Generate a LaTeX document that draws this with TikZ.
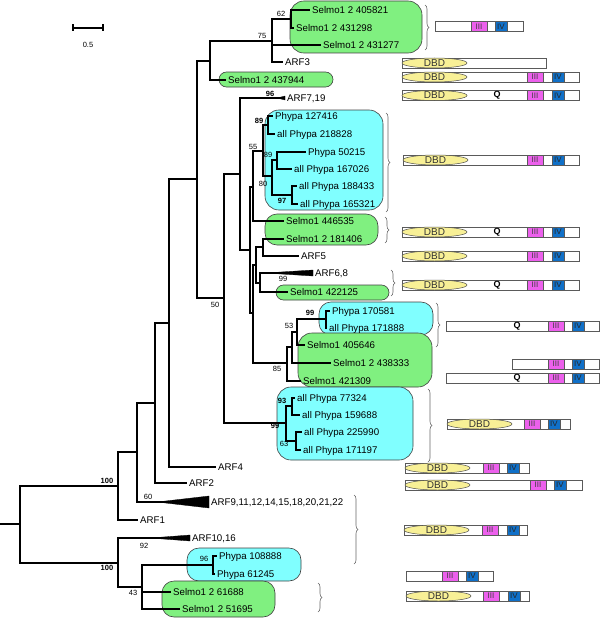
\documentclass[tikz,border=0pt]{standalone}
\usepackage{fontspec}
\setmainfont{Liberation Sans}
\usetikzlibrary{calc}
\usetikzlibrary{shapes.geometric, decorations.pathreplacing, positioning}
\definecolor{selgreen}{RGB}{128,240,128}
\definecolor{phycyan}{RGB}{128,255,255}
\definecolor{dbdyellow}{RGB}{248,240,150}
\definecolor{motifthree}{RGB}{236,96,236}
\definecolor{motiffour}{RGB}{16,112,200}
\definecolor{bargray}{RGB}{90,90,90}

\begin{document}
\begin{tikzpicture}[x=1pt, y=-1pt]%
        \tikzstyle{branch} = [line width=1.1pt, black]
        \tikzstyle{leaf} = [inner sep=1pt, text height=7pt, text depth=0pt, font=\fontsize{9.7}{11}\selectfont]
        \tikzstyle{boot} = [inner sep=0pt, font=\fontsize{7.5}{9}\selectfont]
        \tikzstyle{bootb} = [inner sep=0pt, font=\fontsize{7.5}{9}\selectfont\bfseries]
        \tikzstyle{greenpill} = [fill=selgreen, draw=black!75, line width=0.6pt]
        \tikzstyle{cyanpill} = [fill=phycyan, draw=black!75, line width=0.6pt]
        \tikzstyle{wedge} = [fill=black, draw=black, line width=0.3pt]
        \tikzstyle{brace} = [decorate, decoration={brace, amplitude=4pt}, draw=black!60, line width=0.6pt]
        \tikzstyle{barbox} = [fill=white, draw=bargray, line width=0.8pt]
        \tikzstyle{dbd} = [ellipse, fill=dbdyellow, draw=black!70, line width=0.5pt, minimum width=65pt, minimum height=10pt, inner sep=0pt, text=black!80, font=\fontsize{10}{10}\selectfont]
        \tikzstyle{motif3} = [fill=motifthree, draw=bargray, line width=0.4pt, minimum width=16pt, minimum height=10pt, inner sep=0pt, text=black!75, font=\fontsize{8}{8}\selectfont]
        \tikzstyle{motif4} = [fill=motiffour, draw=bargray, line width=0.4pt, minimum width=12pt, minimum height=10pt, inner sep=0pt, text=black!85, font=\fontsize{8}{8}\selectfont]
        \tikzstyle{qmark} = [inner sep=0pt, font=\fontsize{9}{9}\selectfont\bfseries]

        \useasboundingbox (0,0) rectangle (600,618);

        % clade boxes
        \draw[greenpill, rounded corners=14pt] (290,1) rectangle (422,53);
        \draw[greenpill, rounded corners=7.5pt] (219,72) rectangle (333,87);
        \draw[cyanpill, rounded corners=14pt] (265,110) rectangle (383,210);
        \draw[greenpill, rounded corners=12pt] (265,214) rectangle (378,245);
        \draw[greenpill, rounded corners=7.5pt] (276,285) rectangle (389,300);
        \draw[cyanpill, rounded corners=12pt] (319,302) rectangle (433,335);
        \draw[greenpill, rounded corners=14pt] (298,333) rectangle (432,387);
        \draw[cyanpill, rounded corners=14pt] (277,387) rectangle (413,460);
        \draw[cyanpill, rounded corners=12pt] (187,548) rectangle (301,581);
        \draw[greenpill, rounded corners=12pt] (162,581) rectangle (275,617);

        % scale bar
        \coordinate (sbl) at (73,28);
        \coordinate (sbr) at (103,28);
        \draw[branch] (sbl) -- (sbr);
        \draw[branch] ($(sbl)+(0,-3.5)$) -- ($(sbl)+(0,3.5)$);
        \draw[branch] ($(sbr)+(0,-3.5)$) -- ($(sbr)+(0,3.5)$);
        \node[boot] (sblabel) at (88,45) {0.5};

        \foreach \n/\x/\y in {rt/0/524, n0/20/524, nA/118/486, nA2/118/563, nB/137/452, nC/155/403,
            nD/169/323, nE/197/179, nF/210/61, nH/272/41, nI/291/19, nG/224/298, nJ/240/174,
            nK/250/250, nL/253/187, nN/263/151, nO/268/125, nQ/272/176, nR/277/160, nS/292/195,
            nM/253/313, nY/256/265, nT/263/247, nX/260/283, nW/287/363, nAA/292/347, nZ/297/332,
            nP2/326/319, nCC/286/423, nBB/292/406, nDD/296/441, nEE/142/587, nFF/213/565}{
          \coordinate (\n) at (\x,\y);
        }
        \foreach \n/\x/\y in {s405821/310/10, s431298/294/28, s431277/321/45, arf3/283/62,
            s437944/226/80, arf7/285/98, p127416/273/116, p218828/275/134, p50215/306/152,
            p167026/292/169, p188433/297/186, p165321/298/204, s446535/284/221, s181406/284/239,
            arf5/299/256, arf6/313/273, s422125/288/292, p170581/330/311, p171888/327/328,
            s405646/305/345, s438333/331/363, s421309/301/381, p77324/295/398, p159688/300/415,
            p225990/302/432, p171197/301/450, arf4/216/467, arf2/187/483, arf9/209/502,
            arf1/138/520, arf10/190/538, p108888/217/556, p61245/215/574, s61688/171/592,
            s51695/180/609}{
          \coordinate (\n) at (\x,\y);
        }

        \draw[branch] (rt) -- (n0);
        \foreach \p/\c in {n0/nA, n0/nA2, nA/nB, nA/arf1, nB/nC, nB/arf9, nC/nD, nC/arf2,
            nD/nE, nD/arf4, nE/nF, nE/nG, nF/nH, nF/s437944, nH/nI, nH/s431277, nH/arf3,
            nI/s405821, nI/s431298, nG/nJ, nG/nCC, nJ/arf7, nJ/nK, nK/nL, nK/nM, nL/nN,
            nL/s446535, nN/nO, nN/nQ, nO/p127416, nO/p218828, nQ/nR, nQ/nS, nR/p50215,
            nR/p167026, nS/p188433, nS/p165321, nM/nY, nM/nW, nY/nT, nY/nX, nT/s181406,
            nT/arf5, nX/arf6, nX/s422125, nW/nAA, nW/s421309, nAA/nZ, nAA/s438333, nZ/nP2,
            nZ/s405646, nP2/p170581, nP2/p171888, nCC/nBB, nCC/nDD, nBB/p77324, nBB/p159688,
            nDD/p225990, nDD/p171197, nA2/arf10, nA2/nEE, nEE/nFF, nEE/s61688, nEE/s51695,
            nFF/p108888, nFF/p61245}{
          \draw[branch] (\p) |- (\c);
        }

        % collapsed clades
        \fill[wedge] (157,502) -- ($(arf9)+(0,-6)$) -- ($(arf9)+(0,6)$) -- cycle;
        \fill[wedge] (150,538) -- ($(arf10)+(0,-3)$) -- ($(arf10)+(0,3)$) -- cycle;
        \fill[wedge] (265,273) -- ($(arf6)+(0,-3)$) -- ($(arf6)+(0,3)$) -- cycle;
        \fill[wedge] (277,98) -- ($(arf7)+(0,-2)$) -- ($(arf7)+(0,2)$) -- cycle;

        \foreach \n/\t in {s405821/Selmo1 2 405821, s431298/Selmo1 2 431298, s431277/Selmo1 2 431277,
            arf3/ARF3, s437944/Selmo1 2 437944, arf7/{ARF7,19}, p127416/Phypa 127416,
            p218828/all Phypa 218828, p50215/Phypa 50215, p167026/all Phypa 167026,
            p188433/all Phypa 188433, p165321/all Phypa 165321, s446535/Selmo1 446535,
            s181406/Selmo1 2 181406, arf5/ARF5, arf6/{ARF6,8}, s422125/Selmo1 422125,
            p170581/Phypa 170581, p171888/all Phypa 171888, s405646/Selmo1 405646,
            s438333/Selmo1 2 438333, s421309/Selmo1 421309, p77324/all Phypa 77324,
            p159688/all Phypa 159688, p225990/all Phypa 225990, p171197/all Phypa 171197,
            arf4/ARF4, arf2/ARF2, arf9/{ARF9,11,12,14,15,18,20,21,22}, arf1/ARF1,
            arf10/{ARF10,16}, p108888/Phypa 108888, p61245/Phypa 61245,
            s61688/Selmo1 2 61688, s51695/Selmo1 2 51695}{
          \node[leaf, right=1pt of \n] (l\n) {\t};
        }

        \foreach \n/\x/\y/\t in {b62/281/14/62, b75/262/36/75, b55/253/147/55, b89/268/155/89,
            b80/263/184/80, b99a/283/279/99, b53/289/326/53, b85/277/369/85, b50/215/305/50,
            b63/284/444/63, b60/148/497/60, b92/144/546/92, b96a/204/559/96, b43/133/593/43}{
          \node[boot] (\n) at (\x,\y) {\t};
        }
        \foreach \n/\x/\y/\t in {b96/270/94/96, b89b/259/121/89, b97/282/201/97, b99b/310/313/99,
            b93/282/401/93, b99c/275/426/99, b100a/107/481/100, b100b/107/568/100}{
          \node[bootb] (\n) at (\x,\y) {\t};
        }

        % braces
        \foreach \x/\ya/\yb in {425/5/50, 386/113/212, 385/217/243, 391/270/296, 436/303/347,
            428/389/462, 354/495/564, 318/583/612}{
          \draw[brace] (\x,\ya) -- (\x,\yb);
        }

        % domain bars
        \foreach \l/\r/\y in {435/523/26.5, 402/546/63, 402/579/77, 402/579/95.5, 403/579/160,
            402/579/232, 402/579/256, 402/579/285, 446/599/326, 512/599/364, 446/599/378,
            447/570/424, 405/529/468, 405/582/485, 404/527/530, 406/493/576, 406/529/596}{
          \draw[barbox] (\l,\y-5) rectangle (\r,\y+5);
        }
        \foreach \l/\y [count=\i] in {402/63, 402/77, 402/95.5, 403/160, 402/232, 402/256, 402/285,
            447/424, 405/468, 405/485, 404/530, 406/596}{
          \node[dbd] (dbd\i) at (\l+32.5,\y) {DBD};
        }
        \foreach \x/\y [count=\i] in {497/95.5, 497/232, 497/285, 517/326, 517/378}{
          \node[qmark] (q\i) at (\x,\y) {Q};
        }
        \foreach \l/\y [count=\i] in {471/26.5, 527/77, 527/95.5, 527/160, 527/232, 527/256, 527/285,
            548/326, 548/364, 548/378, 524/424, 483/468, 530/485, 482/530, 442/576, 483/596}{
          \node[motif3] (mIII\i) at (\l+8,\y) {III};
        }
        \foreach \l/\y [count=\i] in {495/26.5, 552/77, 552/95.5, 552/160, 552/232, 552/256, 552/285,
            572/326, 572/364, 572/378, 548/424, 507/468, 554/485, 507/530, 466/576, 508/596}{
          \node[motif4] (mIV\i) at (\l+6,\y) {IV};
        }
      \end{tikzpicture}
\end{document}
